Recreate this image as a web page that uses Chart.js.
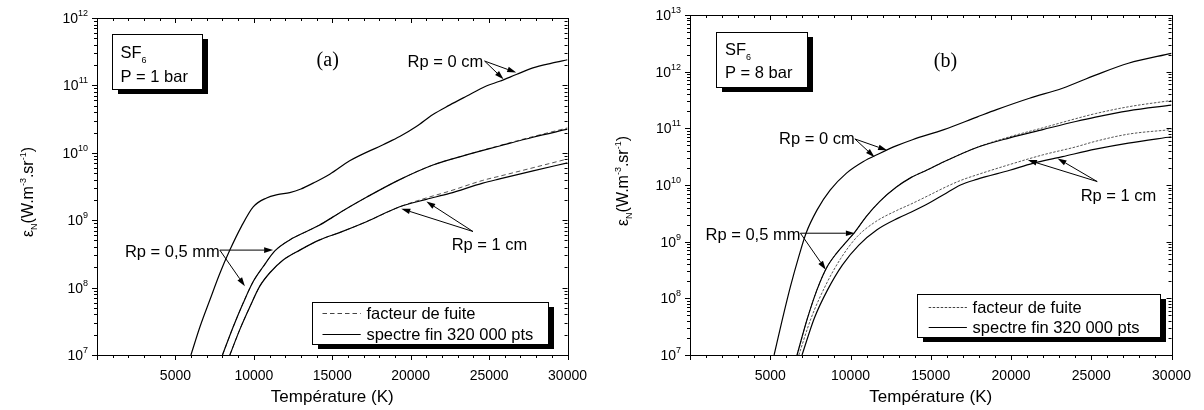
<!DOCTYPE html>
<html>
<head>
<meta charset="utf-8">
<script src="https://cdn.jsdelivr.net/npm/chart.js@4.4.0/dist/chart.umd.min.js"></script>
<style>
  body { margin: 0; background: #fff; }
  #wrap { position: relative; width: 1204px; height: 410px; }
  canvas { position: absolute; top: 0; }
</style>
</head>
<body>
<div id="wrap">
  <canvas id="chartA" width="600" height="410" style="left:0"></canvas>
  <canvas id="chartB" width="604" height="410" style="left:600px"></canvas>
</div>
<script>
// ---- panel (a) : SF6, P = 1 bar ----
const tempA0 = [5990, 6560, 7200, 7830, 8470, 9210, 9960, 10810, 11500, 12290, 13000, 13780, 14840, 16110, 18240, 19300, 20360, 21420, 22480, 23550, 24820, 25670, 26730, 27790, 29000, 30000];
const epsA0  = [1.0e7, 2.6e7, 6.6e7, 1.62e8, 3.6e8, 8.1e8, 1.58e9, 2.14e9, 2.4e9, 2.57e9, 2.9e9, 3.55e9, 4.8e9, 7.6e9, 1.32e10, 1.74e10, 2.45e10, 3.7e10, 5.1e10, 6.9e10, 9.8e10, 1.15e11, 1.45e11, 1.82e11, 2.14e11, 2.4e11];

const tempA5     = [8000, 8680, 9320, 9960, 10590, 11340, 12290, 13360, 14200, 15050, 16110, 17180, 19300, 21420, 23550, 25670, 27800, 30000];
const epsA5      = [1.0e7, 2.6e7, 5.9e7, 1.23e8, 2.04e8, 3.5e8, 5.1e8, 6.8e8, 8.5e8, 1.12e9, 1.58e9, 2.19e9, 4.0e9, 6.6e9, 9.3e9, 1.26e10, 1.7e10, 2.24e10];
const epsA5fuite = [1.0e7, 2.6e7, 5.9e7, 1.23e8, 2.04e8, 3.5e8, 5.1e8, 6.8e8, 8.5e8, 1.12e9, 1.58e9, 2.19e9, 4.0e9, 6.6e9, 9.3e9, 1.28e10, 1.74e10, 2.34e10];

const tempA1     = [8470, 9110, 9750, 10380, 11020, 11870, 12930, 14200, 15500, 17180, 19300, 21000, 22480, 24600, 25670, 27800, 30000];
const epsA1      = [1.0e7, 2.4e7, 5.2e7, 1.05e8, 1.66e8, 2.57e8, 3.6e8, 5.1e8, 6.6e8, 9.5e8, 1.58e9, 2.04e9, 2.5e9, 3.55e9, 4.1e9, 5.4e9, 7.1e9];
const epsA1fuite = [1.0e7, 2.4e7, 5.2e7, 1.05e8, 1.66e8, 2.57e8, 3.6e8, 5.1e8, 6.6e8, 9.5e8, 1.58e9, 2.14e9, 2.7e9, 3.9e9, 4.5e9, 6.0e9, 8.1e9];

// ---- panel (b) : SF6, P = 8 bar ----
const tempB0 = [5240, 5750, 6260, 6780, 7230, 7910, 8730, 9750, 10780, 11810, 12840, 13860, 15820, 17870, 19100, 21150, 23210, 25260, 27310, 30000];
const epsB0  = [1.0e7, 4.2e7, 1.62e8, 5.5e8, 1.41e9, 3.6e9, 8.1e9, 1.62e10, 2.57e10, 3.6e10, 4.9e10, 6.3e10, 9.5e10, 1.58e11, 2.14e11, 3.4e11, 5.1e11, 8.7e11, 1.41e12, 2.1e12];

const tempB5     = [6670, 7290, 7910, 8520, 9140, 9750, 10270, 10990, 11810, 12840, 13760, 14800, 15820, 17870, 19920, 21980, 24030, 25260, 27310, 30000];
const epsB5      = [1.0e7, 4.2e7, 1.41e8, 3.5e8, 6.3e8, 1.0e9, 1.48e9, 2.8e9, 5.1e9, 9.1e9, 1.35e10, 1.86e10, 2.57e10, 4.6e10, 6.8e10, 9.5e10, 1.32e11, 1.58e11, 2.04e11, 2.57e11];
const epsB5fuite = [1.0e7, 4.2e7, 1.41e8, 3.5e8, 6.3e8, 1.0e9, 1.48e9, 2.8e9, 5.1e9, 9.1e9, 1.35e10, 1.86e10, 2.57e10, 4.6e10, 7.1e10, 1.02e11, 1.48e11, 1.82e11, 2.4e11, 3.1e11];

const tempB1 = [6980, 7750, 8570, 9500, 10520, 11650, 13000, 13760, 14900, 15820, 16850, 17870, 19920, 21360, 23210, 25260, 27310, 30000];
const epsB1  = [1.0e7, 4.5e7, 1.41e8, 3.9e8, 8.7e8, 1.62e9, 2.63e9, 3.3e9, 4.8e9, 6.8e9, 1.0e10, 1.26e10, 1.82e10, 2.4e10, 3.16e10, 4.3e10, 5.5e10, 7.1e10];
const tempB1fuite = [6780, 7550, 8470, 9400, 10420, 11550, 12880, 13760, 14900, 15820, 16850, 17870, 19920, 21980, 24030, 25260, 27310, 30000];
const epsB1fuite  = [1.0e7, 4.5e7, 1.74e8, 5.1e8, 1.23e9, 2.24e9, 3.55e9, 4.6e9, 6.6e9, 8.9e9, 1.2e10, 1.51e10, 2.3e10, 3.4e10, 4.7e10, 5.9e10, 7.9e10, 9.5e10];

const xTickStep = 5000;
const legendLabels = ['facteur de fuite', 'spectre fin 320 000 pts'];

const FONT = "'Liberation Sans', Arial, sans-serif";
const SERIF = "'Liberation Serif', 'Times New Roman', serif";

function pts(ts, vs) {
  return ts.map(function (t, i) { return { x: t, y: vs[i] }; });
}

// per panel settings (text labels and arrows are given in data units)
const panels = {
  chartA: {
    left: 97, right: 32, top: 18, yMin: 1e7, yMax: 1e12, dash: [4.5, 3],
    titleX: 27, titleY: 192,
    box: { x: 112, y: 34, w: 90, h: 55, tx: 120.5, y1: 57.5, y2: 82, p: 'P = 1 bar' },
    legend: { x: 312, y: 302, w: 236, h: 42, r1: 313.3, r2: 334, s1: 322.5, s2: 360.7, tx: 366.4 },
    curves: [
      { t: tempA0, v: epsA0 },
      { t: tempA5, v: epsA5, tf: tempA5, vf: epsA5fuite },
      { t: tempA1, v: epsA1, tf: tempA1, vf: epsA1fuite }
    ],
    notes: [
      { t: '(a)', x: 14710, y: 2.4e11, align: 'center', serif: true },
      { t: 'Rp = 0 cm', x: 19800, y: 2.34e11, align: 'left' },
      { t: 'Rp = 0,5 mm', x: 7830, y: 3.47e8, align: 'right' },
      { t: 'Rp = 1 cm', x: 22610, y: 4.4e8, align: 'left' }
    ],
    arrows: [
      [24710, 2.3e11, 26730, 1.55e11],
      [24710, 2.3e11, 25920, 1.23e11],
      [7830, 3.6e8, 11230, 3.6e8],
      [7830, 3.6e8, 9430, 1.05e8],
      [23970, 6.8e8, 19400, 1.48e9],
      [23970, 6.8e8, 21000, 1.9e9]
    ]
  },
  chartB: {
    left: 90, right: 27, top: 15, yMin: 1e7, yMax: 1e13, dash: [2.5, 1.5],
    titleX: 22, titleY: 181,
    box: { x: 116, y: 32, w: 91, h: 55, tx: 125, y1: 54.5, y2: 78, p: 'P = 8 bar' },
    legend: { x: 317, y: 294, w: 243, h: 43, r1: 306.7, r2: 327.3, s1: 328.7, s2: 366.9, tx: 372.6 },
    curves: [
      { t: tempB0, v: epsB0 },
      { t: tempB5, v: epsB5, tf: tempB5, vf: epsB5fuite },
      { t: tempB1, v: epsB1, tf: tempB1fuite, vf: epsB1fuite }
    ],
    notes: [
      { t: '(b)', x: 15920, y: 1.55e12, align: 'center', serif: true },
      { t: 'Rp = 0 cm', x: 5545, y: 6.8e10, align: 'left' },
      { t: 'Rp = 0,5 mm', x: 6880, y: 1.38e9, align: 'right' },
      { t: 'Rp = 1 cm', x: 24340, y: 6.6e9, align: 'left' }
    ],
    arrows: [
      [10270, 6.5e10, 12280, 4.1e10],
      [10270, 6.5e10, 11500, 3.1e10],
      [6880, 1.41e9, 10270, 1.41e9],
      [6880, 1.41e9, 8460, 3.2e8],
      [25370, 1.15e10, 21050, 2.75e10],
      [25370, 1.15e10, 22900, 2.95e10]
    ]
  }
};

function drawParts(ctx, parts, x, y, align) {
  let w = 0;
  parts.forEach(function (p) {
    ctx.font = p.size + 'px ' + (p.family || FONT);
    w += ctx.measureText(p.t).width;
  });
  let cx = align === 'right' ? x - w : (align === 'center' ? x - w / 2 : x);
  ctx.textAlign = 'left';
  ctx.textBaseline = 'alphabetic';
  parts.forEach(function (p) {
    ctx.font = p.size + 'px ' + (p.family || FONT);
    ctx.fillText(p.t, cx, y + (p.dy || 0));
    cx += ctx.measureText(p.t).width;
  });
}

function arrow(ctx, x1, y1, x2, y2) {
  const ang = Math.atan2(y2 - y1, x2 - x1);
  const len = 9, half = 2.8;
  ctx.beginPath();
  ctx.moveTo(x1, y1);
  ctx.lineTo(x2 - Math.cos(ang) * len, y2 - Math.sin(ang) * len);
  ctx.stroke();
  ctx.beginPath();
  ctx.moveTo(x2, y2);
  ctx.lineTo(x2 - Math.cos(ang) * len - Math.sin(ang) * half, y2 - Math.sin(ang) * len + Math.cos(ang) * half);
  ctx.lineTo(x2 - Math.cos(ang) * len + Math.sin(ang) * half, y2 - Math.sin(ang) * len - Math.cos(ang) * half);
  ctx.closePath();
  ctx.fill();
}

function shadowBox(ctx, b) {
  ctx.fillStyle = '#000';
  ctx.fillRect(b.x + 6, b.y + 5, b.w, b.h);
  ctx.fillStyle = '#fff';
  ctx.fillRect(b.x, b.y, b.w, b.h);
  ctx.strokeRect(b.x + 0.5, b.y + 0.5, b.w, b.h);
}

const decor = {
  id: 'decor',
  afterDatasetsDraw: function (chart) {
    const cfg = panels[chart.canvas.id];
    const ctx = chart.ctx, a = chart.chartArea;
    const xs = chart.scales.x, ys = chart.scales.y;
    ctx.save();
    ctx.strokeStyle = '#000';
    ctx.fillStyle = '#000';
    ctx.lineWidth = 1;

    // frame
    ctx.strokeRect(Math.round(a.left) + 0.5, Math.round(a.top) + 0.5, Math.round(a.right - a.left), Math.round(a.bottom - a.top));

    // x ticks (bottom outward, top inward)
    ctx.beginPath();
    for (let t = 0; t <= 30000; t += 1000) {
      const px = Math.round(xs.getPixelForValue(t)) + 0.5;
      const len = t % 5000 === 0 ? 5 : 3;
      ctx.moveTo(px, a.bottom); ctx.lineTo(px, a.bottom + len);
      ctx.moveTo(px, a.top); ctx.lineTo(px, a.top + len);
    }
    // y ticks, log minors
    const k0 = Math.round(Math.log10(cfg.yMin)), k1 = Math.round(Math.log10(cfg.yMax));
    for (let k = k0; k <= k1; k++) {
      for (let m = 1; m <= 9; m++) {
        const v = m * Math.pow(10, k);
        if (v > cfg.yMax * 1.0001) break;
        const py = Math.round(ys.getPixelForValue(v)) + 0.5;
        const len = m === 1 ? 5 : 3;
        ctx.moveTo(a.left - len, py); ctx.lineTo(a.left, py);
        ctx.moveTo(a.right - len, py); ctx.lineTo(a.right, py);
      }
    }
    ctx.stroke();

    // y tick labels 10^k
    for (let k = k0; k <= k1; k++) {
      const py = ys.getPixelForValue(Math.pow(10, k));
      drawParts(ctx, [{ t: '10', size: 14 }, { t: String(k), size: 9, dy: -7 }], a.left - 9, py + 5, 'right');
    }

    // y axis title
    ctx.save();
    ctx.translate(cfg.titleX, cfg.titleY);
    ctx.rotate(-Math.PI / 2);
    drawParts(ctx, [
      { t: 'ε', size: 16 }, { t: 'N', size: 9, dy: 4 }, { t: '(W.m', size: 16 },
      { t: '-3', size: 9, dy: -7 }, { t: '.sr', size: 16 }, { t: '-1', size: 9, dy: -7 }, { t: ')', size: 16 }
    ], 0, 6, 'center');
    ctx.restore();

    // gas / pressure box
    const b = cfg.box;
    shadowBox(ctx, b);
    ctx.fillStyle = '#000';
    drawParts(ctx, [{ t: 'SF', size: 16.5 }, { t: '6', size: 9, dy: 5 }], b.tx, b.y1, 'left');
    drawParts(ctx, [{ t: b.p, size: 16.5 }], b.tx, b.y2, 'left');

    // legend
    const L = cfg.legend;
    shadowBox(ctx, L);
    ctx.fillStyle = '#000';
    ctx.save();
    ctx.strokeStyle = '#444';
    ctx.setLineDash(cfg.dash);
    ctx.beginPath(); ctx.moveTo(L.s1, Math.round(L.r1) + 0.5); ctx.lineTo(L.s2, Math.round(L.r1) + 0.5); ctx.stroke();
    ctx.restore();
    ctx.lineWidth = 1.2;
    ctx.beginPath(); ctx.moveTo(L.s1, Math.round(L.r2) + 0.5); ctx.lineTo(L.s2, Math.round(L.r2) + 0.5); ctx.stroke();
    ctx.lineWidth = 1;
    drawParts(ctx, [{ t: legendLabels[0], size: 16.5 }], L.tx, L.r1 + 6, 'left');
    drawParts(ctx, [{ t: legendLabels[1], size: 16.5 }], L.tx, L.r2 + 6, 'left');

    // annotations
    cfg.notes.forEach(function (n) {
      const px = xs.getPixelForValue(n.x), py = ys.getPixelForValue(n.y);
      if (n.serif) {
        drawParts(ctx, [{ t: n.t, size: 20, family: SERIF }], px, py + 6, n.align);
      } else {
        drawParts(ctx, [{ t: n.t, size: 16.5 }], px, py + 6, n.align);
      }
    });
    cfg.arrows.forEach(function (r) {
      arrow(ctx, xs.getPixelForValue(r[0]), ys.getPixelForValue(r[1]), xs.getPixelForValue(r[2]), ys.getPixelForValue(r[3]));
    });
    ctx.restore();
  }
};

function makeChart(id) {
  const cfg = panels[id];
  const datasets = [];
  cfg.curves.forEach(function (c) {
    datasets.push({ label: legendLabels[1], data: pts(c.t, c.v), borderColor: '#000', borderWidth: 1.2 });
  });
  cfg.curves.forEach(function (c) {
    if (c.tf) {
      datasets.push({ label: legendLabels[0], data: pts(c.tf, c.vf), borderColor: '#555', borderWidth: 1, borderDash: cfg.dash });
    }
  });
  return new Chart(document.getElementById(id), {
    type: 'line',
    data: { datasets: datasets },
    options: {
      responsive: false,
      animation: false,
      layout: { padding: { top: cfg.top, right: cfg.right, left: 0, bottom: 0 } },
      elements: { point: { radius: 0 }, line: { cubicInterpolationMode: 'monotone', fill: false } },
      plugins: { legend: { display: false }, tooltip: { enabled: false } },
      scales: {
        x: {
          type: 'linear', min: 0, max: 30000,
          afterFit: function (s) { s.height = 55; },
          grid: { display: false, drawTicks: false },
          border: { display: false },
          ticks: {
            stepSize: xTickStep, autoSkip: false, maxRotation: 0, padding: 13, color: '#000',
            font: { family: FONT, size: 14 },
            callback: function (v) { return v === 0 ? '' : String(v); }
          },
          title: { display: true, text: 'Température (K)', color: '#000', font: { family: FONT, size: 17 }, padding: { top: 0, bottom: 2 } }
        },
        y: {
          type: 'logarithmic', min: cfg.yMin, max: cfg.yMax,
          afterFit: function (s) { s.width = cfg.left; },
          ticks: { display: false },
          grid: { display: false },
          border: { display: false }
        }
      }
    },
    plugins: [decor]
  });
}

makeChart('chartA');
makeChart('chartB');
</script>
</body>
</html>
